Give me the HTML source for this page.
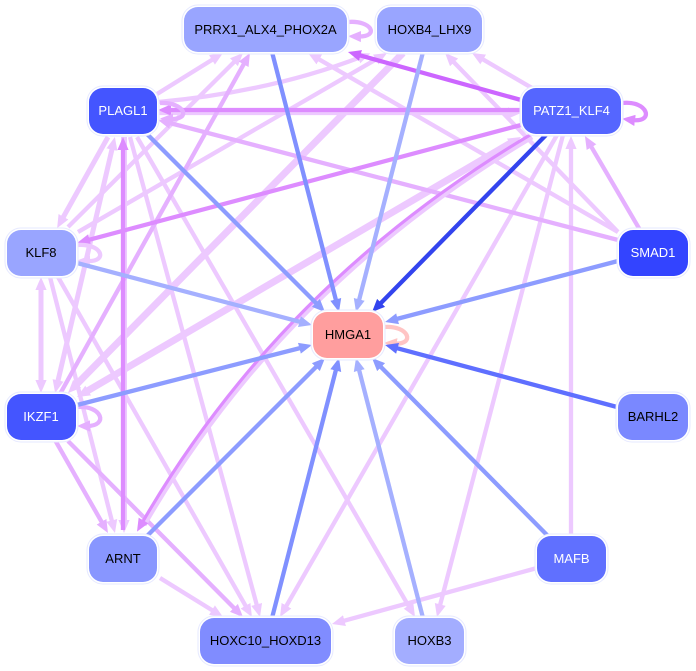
<!DOCTYPE html>
<html lang="en">
<head>
<meta charset="utf-8">
<title>HMGA1 network</title>
<style>
html,body{margin:0;padding:0;background:#fff;width:696px;height:671px;overflow:hidden}
svg{display:block}
text{font-family:"Liberation Sans",sans-serif;font-size:13px;text-anchor:middle}
.e{fill:none}
.c1{stroke:#edc9ff}.c2{stroke:#e5b0ff}.c3{stroke:#dd8cff}.c4{stroke:#cc66ff}
.b1{stroke:#8090ff}.b2{stroke:#a5b0ff}.b3{stroke:#8d9cff}.b4{stroke:#3344ee}.b5{stroke:#5f6fff}.pk{stroke:#ffc4c4}
.o{fill:#fff;stroke:#e6e9ff;stroke-width:1}
</style>
</head>
<body>
<svg width="696" height="671" viewBox="0 0 696 671" xmlns="http://www.w3.org/2000/svg">
<defs>
<marker id="mc1" markerUnits="userSpaceOnUse" markerWidth="14" markerHeight="12" refX="3" refY="6" orient="auto-start-reverse"><path d="M0 .4L13 6L0 11.600z" fill="#edc9ff"/></marker>
<marker id="mc2" markerUnits="userSpaceOnUse" markerWidth="14" markerHeight="12" refX="3" refY="6" orient="auto-start-reverse"><path d="M0 .4L13 6L0 11.600z" fill="#e5b0ff"/></marker>
<marker id="mc3" markerUnits="userSpaceOnUse" markerWidth="14" markerHeight="12" refX="3" refY="6" orient="auto-start-reverse"><path d="M0 .4L13 6L0 11.600z" fill="#dd8cff"/></marker>
<marker id="mc4" markerUnits="userSpaceOnUse" markerWidth="14" markerHeight="12" refX="3" refY="6" orient="auto-start-reverse"><path d="M0 .4L13 6L0 11.600z" fill="#cc66ff"/></marker>
<marker id="mb1" markerUnits="userSpaceOnUse" markerWidth="14" markerHeight="12" refX="3" refY="6" orient="auto"><path d="M0 .4L13 6L0 11.600z" fill="#8090ff"/></marker>
<marker id="mb2" markerUnits="userSpaceOnUse" markerWidth="14" markerHeight="12" refX="3" refY="6" orient="auto"><path d="M0 .4L13 6L0 11.600z" fill="#a5b0ff"/></marker>
<marker id="mb3" markerUnits="userSpaceOnUse" markerWidth="14" markerHeight="12" refX="3" refY="6" orient="auto"><path d="M0 .4L13 6L0 11.600z" fill="#8d9cff"/></marker>
<marker id="mb4" markerUnits="userSpaceOnUse" markerWidth="14" markerHeight="12" refX="3" refY="6" orient="auto"><path d="M0 .4L13 6L0 11.600z" fill="#3344ee"/></marker>
<marker id="mb5" markerUnits="userSpaceOnUse" markerWidth="14" markerHeight="12" refX="3" refY="6" orient="auto"><path d="M0 .4L13 6L0 11.600z" fill="#5f6fff"/></marker>
<marker id="mpk" markerUnits="userSpaceOnUse" markerWidth="14" markerHeight="12" refX="3" refY="6" orient="auto"><path d="M0 .4L13 6L0 11.600z" fill="#ffc4c4"/></marker>
</defs>

<!-- pale edges -->
<g class="e" stroke-width="4.300">
<path class="c1" stroke-width="7" d="M403 53L75 386" marker-end="url(#mc1)"/>
<path class="c1" stroke-width="7" d="M85.600 392L512.400 142" marker-start="url(#mc1)" marker-end="url(#mc1)"/>
<path class="c1" stroke-width="5" d="M108 137L62 219.400" marker-end="url(#mc1)"/>
<path class="c1" stroke-width="5" d="M41 287L41 383" marker-start="url(#mc1)" marker-end="url(#mc1)"/>
<path class="c1" stroke-width="5" d="M112.600 146.700L57.400 383.300" marker-start="url(#mc1)" marker-end="url(#mc1)"/>
<path class="c1" stroke-width="6" d="M124 137L124 523" marker-end="url(#mc1)"/>
<path class="c1" d="M316.700 58L618 232" marker-start="url(#mc1)"/>
<path class="c1" d="M452 60.200L618 232" marker-start="url(#mc1)"/>
<path class="c1" d="M480.600 58L532 88" marker-start="url(#mc1)"/>
<path class="c1" d="M157 94L214.500 58.300" marker-end="url(#mc1)"/>
<path class="c1" d="M68 227L236 60.100" marker-end="url(#mc1)"/>
<path class="c1" d="M78 232L378.400 58" marker-end="url(#mc1)"/>
<path class="c1" d="M158 102Q270 92 361 57" marker-end="url(#mc1)"/>
<path class="c1" d="M50 277L112.500 523.300" marker-end="url(#mc1)"/>
<path class="c1" d="M58 277L247 608.300" marker-end="url(#mc1)"/>
<path class="c1" d="M130 137L257.400 607.300" marker-end="url(#mc1)"/>
<path class="c1" d="M137 137L410 608.400" marker-end="url(#mc1)"/>
<path class="c1" d="M160 578L214.500 611.700" marker-end="url(#mc1)"/>
<path class="c1" d="M537 568L341.600 621.400" marker-end="url(#mc1)"/>
<path class="c1" d="M557 135L285 608.300" marker-end="url(#mc1)"/>
<path class="c1" d="M563 135L439.500 607.300" marker-end="url(#mc1)"/>
<path class="c1" d="M571 536L571 146" marker-end="url(#mc1)"/>
<path class="c1" d="M158 113L511 113" marker-end="url(#mc1)"/>
<path class="c2" d="M640 230L590 144.600" marker-end="url(#mc2)"/>
<path class="c2" d="M618 240L167.700 122.500" marker-end="url(#mc2)"/>
<path class="c2" d="M60 394L245.100 61.700" marker-end="url(#mc2)"/>
<path class="c2" d="M55 440L103 524.300" marker-end="url(#mc2)"/>
<path class="c2" d="M68 441L236 610" marker-end="url(#mc2)"/>
<path class="c3" d="M521 110L168 110" marker-end="url(#mc3)"/>
<path class="c3" d="M521 125L86.700 240.400" marker-end="url(#mc3)"/>
<path class="c3" d="M123 530L123 147" marker-end="url(#mc3)"/>
<path class="c1" stroke-width="5" d="M532 137Q282 286 144 525"/>
<path class="c3" stroke-width="3.200" d="M530 135Q280 284 142 523" marker-end="url(#mc3)"/>
<path class="c4" d="M521 100L357.600 54.700" marker-end="url(#mc4)"/>
<!-- self loops -->
<path class="c2" d="M348 22C372 20 380 37 358 36.500" marker-end="url(#mc2)"/>
<path class="c3" d="M622 103C648 100 655 123 632 120" marker-end="url(#mc3)"/>
<path class="c2" d="M160 103C185 102 192 120 170 119" marker-end="url(#mc2)"/>
<path class="c1" d="M77 245C102 243 109 262 87 261" marker-end="url(#mc1)"/>
<path class="c2" d="M77 407C102 405 109 426 87 426" marker-end="url(#mc2)"/>
<path class="pk" d="M384 327C409 325 416 345 394 343.500" marker-end="url(#mpk)"/>
<!-- blue edges -->
<path class="b1" d="M272 52L336.500 302.300" marker-end="url(#mb1)"/>
<path class="b2" d="M423 52L358.500 302.300" marker-end="url(#mb2)"/>
<path class="b3" d="M147 134L318 305" marker-end="url(#mb3)"/>
<path class="b4" d="M546 135L379 305" marker-end="url(#mb4)"/>
<path class="b3" d="M618 261L394.700 319.500" marker-end="url(#mb3)"/>
<path class="b5" d="M617 407L394.700 347.600" marker-end="url(#mb5)"/>
<path class="b3" d="M548 536L379 365" marker-end="url(#mb3)"/>
<path class="b2" d="M423 618L358.500 367.700" marker-end="url(#mb2)"/>
<path class="b1" d="M272 618L336.500 367.700" marker-end="url(#mb1)"/>
<path class="b3" d="M147 536L318 365" marker-end="url(#mb3)"/>
<path class="b3" d="M77 405L302.300 347.500" marker-end="url(#mb3)"/>
<path class="b2" d="M77 263L302.300 322.400" marker-end="url(#mb2)"/>
</g>

<!-- nodes -->
<g>
<rect class="o" x="182" y="5" width="167" height="49" rx="16"/><rect x="184" y="7" width="163" height="45" rx="14" fill="#99a5ff"/>
<text x="265.500" y="34" fill="#000">PRRX1_ALX4_PHOX2A</text>
<rect class="o" x="375" y="5" width="109" height="49" rx="16"/><rect x="377" y="7" width="105" height="45" rx="14" fill="#99a5ff"/>
<text x="429.500" y="34" fill="#000">HOXB4_LHX9</text>
<rect class="o" x="87" y="86" width="72" height="50" rx="16"/><rect x="89" y="88" width="68" height="46" rx="14" fill="#4455ff"/>
<text x="123" y="115" fill="#fff">PLAGL1</text>
<rect class="o" x="520" y="86" width="103" height="50" rx="16"/><rect x="522" y="88" width="99" height="46" rx="14" fill="#5566ff"/>
<text x="571.500" y="115" fill="#fff">PATZ1_KLF4</text>
<rect class="o" x="5" y="228" width="73" height="50" rx="16"/><rect x="7" y="230" width="69" height="46" rx="14" fill="#99a5ff"/>
<text x="41" y="257" fill="#000">KLF8</text>
<rect class="o" x="617" y="228" width="73" height="50" rx="16"/><rect x="619" y="230" width="69" height="46" rx="14" fill="#3344ff"/>
<text x="653" y="257" fill="#fff">SMAD1</text>
<rect class="o" x="311" y="310" width="74" height="50" rx="16"/><rect x="313" y="312" width="70" height="46" rx="14" fill="#ff9e9e"/>
<text x="348" y="339" fill="#000">HMGA1</text>
<rect class="o" x="5" y="392" width="73" height="50" rx="16"/><rect x="7" y="394" width="69" height="46" rx="14" fill="#4455ff"/>
<text x="41" y="421" fill="#fff">IKZF1</text>
<rect class="o" x="616" y="392" width="74" height="50" rx="16"/><rect x="618" y="394" width="70" height="46" rx="14" fill="#7a88ff"/>
<text x="653" y="421" fill="#000">BARHL2</text>
<rect class="o" x="87" y="534" width="72" height="50" rx="16"/><rect x="89" y="536" width="68" height="46" rx="14" fill="#8896ff"/>
<text x="123" y="563" fill="#000">ARNT</text>
<rect class="o" x="535" y="534" width="73" height="50" rx="16"/><rect x="537" y="536" width="69" height="46" rx="14" fill="#6070ff"/>
<text x="571.500" y="563" fill="#fff">MAFB</text>
<rect class="o" x="198" y="616" width="135" height="50" rx="16"/><rect x="200" y="618" width="131" height="46" rx="14" fill="#808cff"/>
<text x="265.500" y="645" fill="#000">HOXC10_HOXD13</text>
<rect class="o" x="393" y="616" width="73" height="50" rx="16"/><rect x="395" y="618" width="69" height="46" rx="14" fill="#a3adff"/>
<text x="429.500" y="645" fill="#000">HOXB3</text>
</g>
</svg>
</body>
</html>
